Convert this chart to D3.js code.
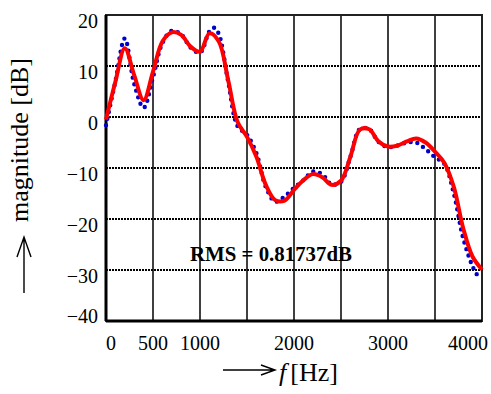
<!DOCTYPE html>
<html>
<head>
<meta charset="utf-8">
<script src="https://cdn.jsdelivr.net/npm/d3@7"></script>
<style>
  body { margin: 0; background: #fff; }
  svg { display: block; font-family: "Liberation Serif", "DejaVu Serif", serif; }
</style>
</head>
<body>
<div id="chart"></div>
<script>
// frequency grid (Hz)
const freqs = [0, 100, 200, 300, 400, 500, 600, 700, 800, 900, 1000,
  1100, 1200, 1300, 1400, 1500, 1600, 1700, 1800, 1900, 2000,
  2100, 2200, 2300, 2400, 2500, 2600, 2700, 2800, 2900, 3000,
  3100, 3200, 3300, 3400, 3500, 3600, 3700, 3800, 3900, 4000];

// red: fitted response (dB)
const fitted = [-0.5, 6.9, 13.5, 8.2, 3.3, 8.9, 14.8, 16.6, 16.1, 13.8, 12.8,
  16.4, 14.8, 7.2, -1.0, -3.9, -7.8, -13.3, -16.3, -16.4, -14.3,
  -12.4, -11.2, -11.8, -13.3, -12.5, -7.8, -2.5, -2.4, -4.8, -5.8,
  -5.6, -4.8, -4.2, -5.0, -6.8, -9.0, -13.7, -21.8, -27.4, -29.9];

// blue dotted: target response (dB)
const targetFreqs = [0, 100, 200, 300, 400, 500, 600, 700, 800, 900, 1000,
  1100, 1150, 1200, 1300, 1400, 1500, 1600, 1700, 1800, 1900, 2000,
  2100, 2200, 2300, 2400, 2500, 2600, 2700, 2800, 2900, 3000,
  3100, 3200, 3300, 3400, 3500, 3600, 3700, 3800, 3900, 3950];
const target = [-1.6, 7.0, 15.4, 6.5, 1.8, 7.8, 14.5, 16.9, 16.2, 13.6, 12.6,
  16.8, 17.5, 16.3, 6.9, -1.8, -3.5, -7.1, -13.7, -16.6, -15.6, -13.9,
  -12.4, -10.7, -11.2, -13.2, -12.7, -7.8, -2.4, -2.4, -4.9, -5.9,
  -5.6, -5.0, -5.0, -6.3, -7.9, -9.2, -15.0, -23.8, -29.3, -31.0];

const xTicks = [0, 500, 1000, 2000, 3000, 4000];
const xGrid = [500, 1000, 1500, 2000, 2500, 3000, 3500];
const yTicks = [20, 10, 0, -10, -20, -30, -40];
const rmsLabel = "RMS = 0.81737dB";

const W = 491, H = 394;
const x = d3.scaleLinear().domain([0, 4000]).range([106, 482]);
const y = d3.scaleLinear().domain([-40, 20]).range([321, 15]);

const svg = d3.select("#chart").append("svg")
  .attr("width", W).attr("height", H);

// grid
svg.append("g").selectAll("line").data(xGrid).enter().append("line")
  .attr("x1", d => x(d)).attr("x2", d => x(d))
  .attr("y1", y(20)).attr("y2", y(-40))
  .attr("stroke", "#000").attr("stroke-width", 1.5);

svg.append("g").selectAll("line").data(yTicks.filter(d => d > -40 && d < 20)).enter().append("line")
  .attr("x1", x(0)).attr("x2", x(4000))
  .attr("y1", d => y(d)).attr("y2", d => y(d))
  .attr("stroke", "#000").attr("stroke-width", 2)
  .attr("stroke-dasharray", "2 1");

// frame
svg.append("rect")
  .attr("x", x(0)).attr("y", y(20))
  .attr("width", x(4000) - x(0)).attr("height", y(-40) - y(20))
  .attr("fill", "none").attr("stroke", "#222").attr("stroke-width", 2);
svg.append("line")
  .attr("x1", x(0)).attr("x2", x(0)).attr("y1", y(20)).attr("y2", y(-40))
  .attr("stroke", "#000").attr("stroke-width", 3);
svg.append("line")
  .attr("x1", x(0)).attr("x2", x(4000)).attr("y1", y(-40)).attr("y2", y(-40))
  .attr("stroke", "#000").attr("stroke-width", 3);

// curves
const line = d3.line()
  .x(d => x(d[0])).y(d => y(d[1]))
  .curve(d3.curveCatmullRom.alpha(0.5));

svg.append("path")
  .datum(targetFreqs.map((f, i) => [f, target[i]]))
  .attr("d", line)
  .attr("fill", "none").attr("stroke", "#0000cc")
  .attr("stroke-width", 4.4).attr("stroke-linecap", "round")
  .attr("stroke-dasharray", "0 6.8");

svg.append("path")
  .datum(freqs.map((f, i) => [f, fitted[i]]))
  .attr("d", line)
  .attr("fill", "none").attr("stroke", "#ff0000")
  .attr("stroke-width", 4).attr("stroke-linejoin", "round");

// tick labels
svg.append("g").selectAll("text").data(yTicks).enter().append("text")
  .attr("x", 98).attr("y", d => Math.min(y(d) + 13, 323))
  .attr("text-anchor", "end").attr("font-size", 20)
  .text(d => d < 0 ? "\u2212" + Math.abs(d) : d);

svg.append("g").selectAll("text").data(xTicks).enter().append("text")
  .attr("x", (d, i) => i === xTicks.length - 1 ? x(d) + 6 : x(d))
  .attr("y", 350)
  .attr("text-anchor", (d, i) => i === 0 ? "start" : i === xTicks.length - 1 ? "end" : "middle")
  .attr("font-size", 20)
  .text(d => d);

// RMS note
svg.append("text")
  .attr("x", 190).attr("y", 261)
  .attr("font-size", 22).attr("font-weight", "bold")
  .attr("textLength", 162).attr("lengthAdjust", "spacingAndGlyphs")
  .text(rmsLabel);

// y axis title with arrow
svg.append("text")
  .attr("transform", "translate(28,140) rotate(-90)")
  .attr("text-anchor", "middle").attr("font-size", 26)
  .text("magnitude [dB]");
svg.append("path")
  .attr("d", "M24,293V237M17,257L24,237L31,257")
  .attr("fill", "none").attr("stroke", "#000").attr("stroke-width", 1.4);

// x axis title with arrow
svg.append("path")
  .attr("d", "M223,370H275M261,365L275,370L261,375")
  .attr("fill", "none").attr("stroke", "#000").attr("stroke-width", 1.4);
const xt = svg.append("text").attr("x", 279).attr("y", 381).attr("font-size", 26);
xt.append("tspan").attr("font-style", "italic").text("f");
xt.append("tspan").attr("dx", 4).text("[Hz]");
</script>
</body>
</html>
